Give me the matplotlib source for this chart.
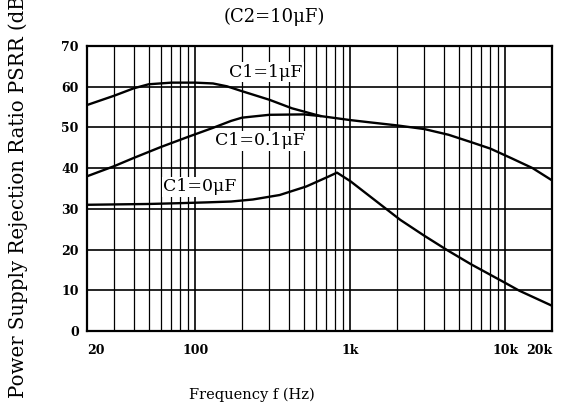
## PSRR vs frequency chart (C2 = 10uF)
import matplotlib
matplotlib.use("Agg")
import matplotlib.pyplot as plt
from matplotlib.ticker import LogLocator, NullFormatter

# Curve data (frequency in Hz, PSRR in dB)
freq_1uf = [20, 30, 40, 50, 70, 100, 130, 160, 200, 300, 420, 640, 1000,
            1300, 2000, 3000, 4300, 6000, 8000, 11000, 15000, 20000]
psrr_1uf = [55.5, 57.8, 59.6, 60.6, 61.0, 61.0, 60.8, 60.1, 58.9, 56.8, 54.7,
            52.8, 51.8, 51.3, 50.5, 49.6, 48.2, 46.4, 44.8, 42.4, 40.0, 37.0]

freq_01uf = [20, 30, 40, 60, 90, 130, 170, 200, 300, 500, 640]
psrr_01uf = [38.0, 40.5, 42.5, 45.2, 47.7, 49.9, 51.6, 52.4, 53.1, 53.2, 52.8]

freq_0uf = [20, 50, 80, 120, 170, 235, 350, 520, 720, 820, 1000, 2100, 3000,
            4200, 6000, 10000, 12300, 20000]
psrr_0uf = [31.0, 31.2, 31.4, 31.6, 31.8, 32.3, 33.4, 35.5, 37.9, 38.9, 36.8,
            27.3, 23.4, 19.9, 16.4, 11.8, 9.9, 6.2]

x_ticks = [20, 100, 1000, 10000, 20000]
x_tick_labels = ["20", "100", "1k", "10k", "20k"]
y_ticks = [0, 10, 20, 30, 40, 50, 60, 70]

serif = "DejaVu Serif"

fig = plt.figure(figsize=(5.62, 4.05), dpi=100)
ax = fig.add_axes([87 / 562, 1 - 331 / 405, 465 / 562, 285 / 405])

ax.set_xscale("log")
ax.set_xlim(20, 20000)
ax.set_ylim(0, 70)

# Log grid with all the minor lines, like the scanned graph paper
ax.xaxis.set_minor_locator(LogLocator(base=10, subs=range(2, 10)))
ax.xaxis.set_minor_formatter(NullFormatter())
ax.set_xticks(x_ticks)
ax.set_xticklabels(x_tick_labels)
ax.set_yticks(y_ticks)
ax.grid(which="major", color="black", linewidth=1.2)
ax.grid(which="minor", color="black", linewidth=0.9)
ax.set_axisbelow(True)
ax.tick_params(which="both", length=0)
ax.tick_params(axis="x", pad=9)
ax.tick_params(axis="y", pad=6)
for lab in ax.get_xticklabels() + ax.get_yticklabels():
    lab.set_fontfamily(serif)
    lab.set_fontweight("bold")
    lab.set_fontsize(9)
xl = ax.get_xticklabels()
xl[0].set_horizontalalignment("left")
xl[-1].set_horizontalalignment("right")

for side in ax.spines.values():
    side.set_linewidth(1.6)
    side.set_color("black")

# The three curves
ax.plot(freq_1uf, psrr_1uf, color="black", linewidth=1.7, zorder=3)
ax.plot(freq_01uf, psrr_01uf, color="black", linewidth=1.7, zorder=3)
ax.plot(freq_0uf, psrr_0uf, color="black", linewidth=1.7, zorder=3)

box = dict(facecolor="white", edgecolor="none", pad=1)
ax.text(285, 63.6, "C1=1\u03bcF", family=serif, fontsize=12.5,
        ha="center", va="center", bbox=box, zorder=4)
ax.text(262, 46.7, "C1=0.1\u03bcF", family=serif, fontsize=12.5,
        ha="center", va="center", bbox=box, zorder=4)
ax.text(107, 35.4, "C1=0\u03bcF", family=serif, fontsize=12.5,
        ha="center", va="center", bbox=box, zorder=4)

# Title, axis labels
fig.text(274 / 562, 1 - 17 / 405, "(C2=10\u03bcF)", family=serif,
         fontsize=13, ha="center", va="center")
fig.text(252 / 562, 1 - 395 / 405, "Frequency f (Hz)", family=serif,
         fontsize=10.5, ha="center", va="center")
fig.text(18 / 562, 1 - 398 / 405, "Power Supply Rejection Ratio PSRR (dB)",
         family=serif, fontsize=14.2, rotation=90, ha="center", va="bottom")

fig.savefig("out.png", dpi=100)
